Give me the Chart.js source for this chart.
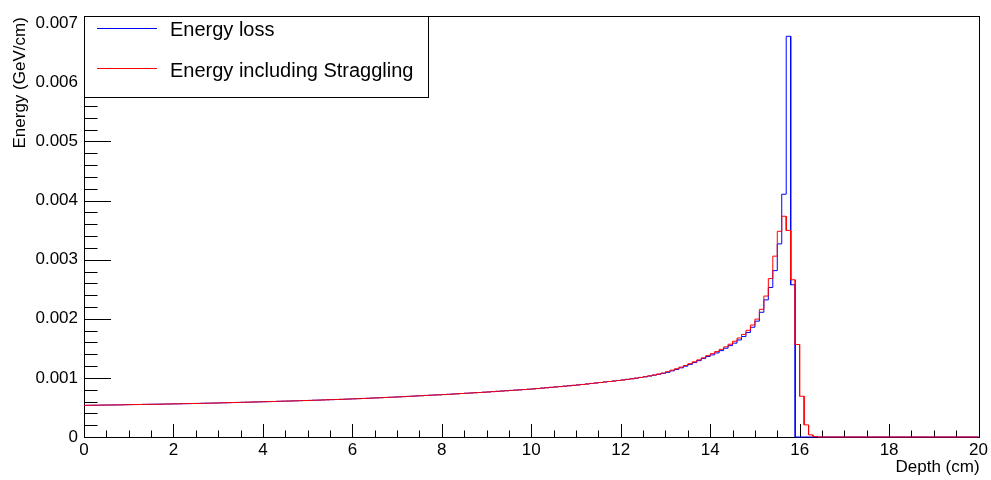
<!DOCTYPE html>
<html>
<head>
<meta charset="utf-8">
<title>Energy deposition vs depth</title>
<script src="https://cdn.jsdelivr.net/npm/chart.js@4.4.1/dist/chart.umd.min.js"></script>
<style>
  html, body { margin: 0; padding: 0; background: #ffffff; }
  canvas { display: block; }
</style>
</head>
<body>
<canvas id="chart" width="991" height="480"></canvas>
<script>
// Histogram binning: 200 bins of 0.1 cm over 0-20 cm
const depthMin = 0;
const depthMax = 20;
const binCount = 200;

// Mean energy loss per bin (GeV/cm)
const energyLoss = [
  0.000536,0.000537,0.000538,0.000539,0.000540,0.000541,0.000542,0.000543,0.000544,0.000546,
  0.000548,0.000549,0.000550,0.000552,0.000553,0.000554,0.000555,0.000556,0.000558,0.000559,
  0.000561,0.000562,0.000564,0.000565,0.000567,0.000568,0.000570,0.000572,0.000573,0.000575,
  0.000577,0.000579,0.000581,0.000583,0.000585,0.000587,0.000589,0.000591,0.000593,0.000595,
  0.000597,0.000599,0.000601,0.000604,0.000606,0.000608,0.000610,0.000612,0.000615,0.000617,
  0.000619,0.000622,0.000624,0.000627,0.000630,0.000632,0.000635,0.000637,0.000640,0.000643,
  0.000646,0.000649,0.000652,0.000655,0.000659,0.000662,0.000665,0.000669,0.000672,0.000675,
  0.000679,0.000683,0.000687,0.000691,0.000695,0.000699,0.000703,0.000707,0.000711,0.000714,
  0.000718,0.000722,0.000727,0.000731,0.000736,0.000740,0.000745,0.000749,0.000753,0.000758,
  0.000762,0.000768,0.000773,0.000778,0.000783,0.000788,0.000793,0.000798,0.000803,0.000808,
  0.000814,0.000820,0.000827,0.000834,0.000840,0.000847,0.000853,0.000860,0.000867,0.000874,
  0.000881,0.000889,0.000897,0.000906,0.000914,0.000922,0.000931,0.000939,0.000947,0.000956,
  0.000965,0.000975,0.000985,0.000996,0.001008,0.001018,0.001032,0.001046,0.001061,0.001077,
  0.001094,0.001119,0.001143,0.001170,0.001198,0.001228,0.001259,0.001292,0.001327,0.001362,
  0.001389,0.001423,0.001461,0.001502,0.001546,0.001588,0.001642,0.001701,0.001769,0.001857,
  0.001960,0.002110,0.002320,0.002530,0.002815,0.003267,0.004108,0.006780,0.002575,0,
  0,0,0,0,0,0,0,0,0,0,
  0,0,0,0,0,0,0,0,0,0,
  0,0,0,0,0,0,0,0,0,0,
  0,0,0,0,0,0,0,0,0,0
];

// Energy loss including range straggling (GeV/cm)
const energyStraggling = [
  0.000536,0.000537,0.000538,0.000539,0.000540,0.000541,0.000542,0.000543,0.000544,0.000546,
  0.000548,0.000549,0.000550,0.000552,0.000553,0.000554,0.000555,0.000556,0.000558,0.000559,
  0.000561,0.000562,0.000564,0.000565,0.000567,0.000568,0.000570,0.000572,0.000573,0.000575,
  0.000577,0.000579,0.000581,0.000583,0.000585,0.000587,0.000589,0.000591,0.000593,0.000595,
  0.000597,0.000599,0.000601,0.000604,0.000606,0.000608,0.000610,0.000612,0.000615,0.000617,
  0.000619,0.000622,0.000624,0.000627,0.000630,0.000632,0.000635,0.000637,0.000640,0.000643,
  0.000646,0.000649,0.000652,0.000655,0.000659,0.000662,0.000665,0.000669,0.000672,0.000675,
  0.000679,0.000683,0.000687,0.000691,0.000695,0.000699,0.000703,0.000707,0.000711,0.000714,
  0.000718,0.000722,0.000727,0.000731,0.000736,0.000740,0.000745,0.000749,0.000753,0.000758,
  0.000762,0.000768,0.000773,0.000778,0.000783,0.000788,0.000793,0.000798,0.000803,0.000808,
  0.000814,0.000820,0.000827,0.000834,0.000840,0.000847,0.000853,0.000860,0.000867,0.000874,
  0.000881,0.000889,0.000897,0.000906,0.000914,0.000922,0.000931,0.000939,0.000947,0.000956,
  0.000965,0.000975,0.000985,0.000996,0.001008,0.001021,0.001035,0.001050,0.001065,0.001082,
  0.001105,0.001130,0.001155,0.001182,0.001210,0.001240,0.001272,0.001305,0.001340,0.001376,
  0.001410,0.001445,0.001483,0.001525,0.001570,0.001620,0.001675,0.001736,0.001805,0.001895,
  0.001995,0.002160,0.002385,0.002680,0.003060,0.003480,0.003735,0.003495,0.002660,0.001565,
  0.000690,0.000205,0.000035,0.000008,0,0,0,0,0,0,
  0,0,0,0,0,0,0,0,0,0,
  0,0,0,0,0,0,0,0,0,0,
  0,0,0,0,0,0,0,0,0,0
];

const seriesLabels = ['Energy loss', 'Energy including Straggling'];
const xTickValues = [0, 2, 4, 6, 8, 10, 12, 14, 16, 18, 20];
const xTickLabels = ['0', '2', '4', '6', '8', '10', '12', '14', '16', '18', '20'];
const yTickValues = [0, 0.001, 0.002, 0.003, 0.004, 0.005, 0.006, 0.007];
const yTickLabels = ['0', '0.001', '0.002', '0.003', '0.004', '0.005', '0.006', '0.007'];
const xMinorStep = 0.5;
const yMinorStep = 0.0002;
const yMax = 0.00712;
const xTitle = 'Depth (cm)';
const yTitle = 'Energy (GeV/cm)';

const FONT = '"Liberation Sans", Arial, Helvetica, sans-serif';

// Turn bin contents into a histogram outline: each bin spans [low edge, high edge]
function histogramOutline(values) {
  const width = (depthMax - depthMin) / binCount;
  const pts = [];
  values.forEach((v, i) => {
    const lo = depthMin + i * width;
    pts.push({ x: lo, y: v });
    pts.push({ x: lo + width, y: v });
  });
  return pts;
}

// Frame and inward-pointing tick marks, drawn under the histograms
const frameAndTicks = {
  id: 'frameAndTicks',
  beforeDatasetsDraw(chart) {
    const { ctx, chartArea: a, scales: { x, y } } = chart;
    ctx.save();
    ctx.strokeStyle = '#000000';
    ctx.lineWidth = 1;
    ctx.beginPath();
    // x axis ticks
    const xMajorLen = 13, xMinorLen = 6.5;
    for (let v = x.min; v <= x.max + 1e-9; v += xMinorStep) {
      const px = Math.round(x.getPixelForValue(v)) + 0.5;
      const isMajor = xTickValues.some(t => Math.abs(t - v) < 1e-9);
      const len = isMajor ? xMajorLen : xMinorLen;
      ctx.moveTo(px, a.bottom);
      ctx.lineTo(px, a.bottom - len);
    }
    // y axis ticks
    const yMajorLen = 27, yMinorLen = 13.5;
    for (let k = 0; k * yMinorStep <= y.max + 1e-12; k++) {
      const v = k * yMinorStep;
      const py = Math.round(y.getPixelForValue(v)) + 0.5;
      const isMajor = k % 5 === 0;
      const len = isMajor ? yMajorLen : yMinorLen;
      ctx.moveTo(a.left, py);
      ctx.lineTo(a.left + len, py);
    }
    ctx.stroke();
    // frame
    ctx.strokeRect(Math.round(a.left) + 0.5, Math.round(a.top) + 0.5,
                   Math.round(a.right - a.left), Math.round(a.bottom - a.top));
    ctx.restore();
  }
};

// Axis titles and legend box, drawn on top
const titlesAndLegend = {
  id: 'titlesAndLegend',
  afterDraw(chart) {
    const { ctx, chartArea: a } = chart;
    ctx.save();
    ctx.fillStyle = '#000000';
    // x title, right aligned under the axis end
    ctx.font = '17px ' + FONT;
    ctx.textAlign = 'right';
    ctx.textBaseline = 'alphabetic';
    ctx.fillText(xTitle, a.right + 1, 472);
    // y title, rotated, aligned to the top of the axis
    ctx.save();
    ctx.translate(25, a.top + 1);
    ctx.rotate(-Math.PI / 2);
    ctx.textAlign = 'right';
    ctx.fillText(yTitle, 0, 0);
    ctx.restore();

    // legend
    const bx = Math.round(a.left) + 0.5, by = Math.round(a.top) + 0.5;
    const bw = 344, bh = 81;
    ctx.fillStyle = '#ffffff';
    ctx.fillRect(bx, by, bw, bh);
    ctx.strokeStyle = '#000000';
    ctx.lineWidth = 1;
    ctx.strokeRect(bx, by, bw, bh);
    const rows = [
      { ds: chart.data.datasets[0], lineY: 28.5, textY: 36 },
      { ds: chart.data.datasets[1], lineY: 68.5, textY: 77 }
    ];
    ctx.font = '20px ' + FONT;
    ctx.textAlign = 'left';
    rows.forEach(r => {
      ctx.strokeStyle = r.ds.borderColor;
      ctx.beginPath();
      ctx.moveTo(97, r.lineY);
      ctx.lineTo(157, r.lineY);
      ctx.stroke();
      ctx.fillStyle = '#000000';
      ctx.fillText(r.ds.label, 170, r.textY);
    });
    ctx.restore();
  }
};

new Chart(document.getElementById('chart'), {
  type: 'line',
  data: {
    datasets: [
      {
        label: seriesLabels[0],
        data: histogramOutline(energyLoss),
        borderColor: '#0000ff',
        borderWidth: 1,
        pointRadius: 0,
        tension: 0,
        fill: false,
        clip: false,
        order: 1
      },
      {
        label: seriesLabels[1],
        data: histogramOutline(energyStraggling),
        borderColor: '#ff0000',
        borderWidth: 1,
        pointRadius: 0,
        tension: 0,
        fill: false,
        clip: false,
        order: 0
      }
    ]
  },
  plugins: [frameAndTicks, titlesAndLegend],
  options: {
    responsive: false,
    animation: false,
    devicePixelRatio: 1,
    layout: { padding: { left: 0, right: 11, top: 7, bottom: 0 } },
    plugins: {
      legend: { display: false },
      tooltip: { enabled: false }
    },
    scales: {
      x: {
        type: 'linear',
        min: depthMin,
        max: depthMax,
        grid: { display: false, drawTicks: false },
        border: { display: false },
        afterFit(axis) { axis.height = 43; },
        afterBuildTicks(axis) { axis.ticks = xTickValues.map(v => ({ value: v })); },
        ticks: {
          padding: 3,
          color: '#000000',
          font: { family: FONT, size: 17 },
          maxRotation: 0,
          autoSkip: false,
          callback(value) {
            const i = xTickValues.indexOf(value);
            return i >= 0 ? xTickLabels[i] : '';
          }
        }
      },
      y: {
        type: 'linear',
        min: 0,
        max: yMax,
        grid: { display: false, drawTicks: false },
        border: { display: false },
        afterFit(axis) { axis.width = 84; },
        afterBuildTicks(axis) { axis.ticks = yTickValues.map(v => ({ value: v })); },
        ticks: {
          padding: 6,
          color: '#000000',
          font: { family: FONT, size: 17 },
          autoSkip: false,
          callback(value) {
            const i = yTickValues.findIndex(t => Math.abs(t - value) < 1e-12);
            return i >= 0 ? yTickLabels[i] : '';
          }
        }
      }
    }
  }
});
</script>
</body>
</html>
